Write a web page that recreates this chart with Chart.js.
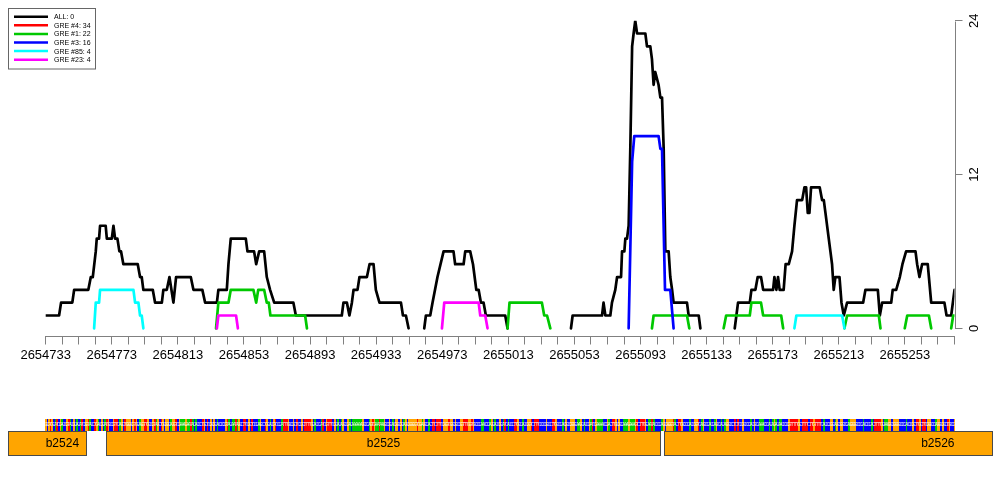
<!DOCTYPE html>
<html>
<head>
<meta charset="utf-8">
<script src="https://cdn.jsdelivr.net/npm/chart.js@4.4.0/dist/chart.umd.min.js"></script>
<style>
  html, body { margin: 0; padding: 0; background: #fff; }
  #wrap { width: 1000px; height: 500px; }
</style>
</head>
<body>
<div id="wrap"><canvas id="greChart" width="1000" height="500"></canvas></div>
<script>
// x range (genome position) and tick labels
const xStart = 2654733;
const xEnd = 2655283;
const xLabels = [2654733, 2654773, 2654813, 2654853, 2654893, 2654933, 2654973,
  2655013, 2655053, 2655093, 2655133, 2655173, 2655213, 2655253];
const yTicks = [0, 12, 24];

const seriesNames = ['ALL: 0', 'GRE #4: 34', 'GRE #1: 22', 'GRE #3: 16', 'GRE #85: 4', 'GRE #23: 4'];
const seriesColors = ['#000000', '#ff0000', '#00c800', '#0000ff', '#00ffff', '#ff00ff'];

// positions are offsets from xStart, null = gap
const allPos = [0,8.1,9.3,16.1,17.2,25.8,27.3,28.5,30.3,30.9,
  32.3,32.9,36.3,37,40,41,42,43.4,44.6,45.6,
  47,55.7,57.1,58.1,59.1,64.8,66.2,70.3,71.2,73.3,
  74.9,77.3,78.9,87.8,89.4,94.8,96.5,103.6,104.5,109.6,
  110.6,112,121.1,122.1,126.1,127.4,129.2,132.2,133.8,135.8,
  138.3,149.9,151.4,179.2,180.2,182.3,183.8,185.3,186.3,188.7,
  189.9,194.4,196,198.4,199.8,202,215,216.2,218,219.6,
  224,229.1,230.1,232.7,234.1,237.1,240.8,246.8,247.8,252.9,
  253.9,256.9,258.6,260.6,262,263.4,265,266.4,278.1,279.5,
  300,317.9,318.9,336.7,337.6,338.7,341.7,342.7,344.7,345.8,
  348.2,348.8,350.2,350.8,351.8,352.8,353.8,354.9,355.8,356.8,
  357.9,362.9,363.9,365.9,366.9,367.9,368.9,370.9,372,373,
  374,375,377,378,379.1,380,388.1,389.1,395.2,396.2,
  405,417,418,419,426.1,427.1,429.5,430.9,432.9,434.2,
  440.2,441,442.2,443.2,444.2,446.6,447.8,449.7,451.7,453.1,
  454.7,457.8,459.2,460.2,461.2,462.2,463.2,468.4,469.9,470.9,
  471.9,473.9,474.9,475.9,476.9,477.9,480.4,481.6,483,485,
  494.7,496.1,503.6,504.8,506.2,511.7,512.6,514.7,516.9,518.5,
  520.7,526.4,527.4,528.8,530.4,533.8,535.9,543.9,545.2,548,
  550];
const allVal = [1,1,2,2,3,3,4,4,6,7,
  7,8,8,7,7,8,7,7,6,6,
  5,5,4,4,3,3,2,2,3,3,
  4,2,4,4,3,3,2,2,3,3,
  5,7,7,6,6,5,6,6,4,3,
  2,2,1,1,2,2,1,2,3,3,
  4,4,5,5,3,2,2,1,1,0,
  null,0,1,1,2,4,6,6,5,5,
  6,6,5,3,3,2,2,1,1,0,
  null,0,1,1,2,1,1,2,3,4,
  4,6,6,7,7,8,14,22,23,24,
  23,23,22,22,21,19,20,19,18,18,
  14,6,6,4,3,2,2,1,1,0,
  null,0,1,2,2,3,3,4,4,3,
  3,4,3,4,3,3,5,5,6,8,
  10,10,11,11,9,9,11,11,10,10,
  9,7,6,5,3,4,4,2,1,2,
  2,3,3,1,2,2,3,3,4,5,
  6,6,5,4,5,5,2,2,1,1,
  3];

const gre4Pos = [];
const gre4Val = [];

const gre1Pos = [103.1,104.5,110.6,112,125.7,127.4,128.6,132.2,133.8,135,
  136,157,158.1,200,279.5,280.7,300.3,301.7,303.4,305.4,
  330,366.9,367.9,388.1,389.5,400,410.3,411.8,426.1,427.1,
  432.9,434.2,445.1,446.3,460,483.4,485,504.2,505.2,510,
  519.9,521.4,534.5,535.9,540,548,549.2,550];
const gre1Val = [0,2,2,3,3,2,3,3,2,2,
  1,1,0,null,0,2,2,1,1,0,
  null,0,1,1,0,null,0,1,1,2,
  2,1,1,0,null,0,1,1,0,null,
  0,1,1,0,null,0,1,1];

const gre3Pos = [352.8,354.9,356.2,370.9,372,373,374.8,378,380];
const gre3Val = [0,13,15,15,14,14,3,3,0];

const gre85Pos = [29.3,30.3,32.3,32.9,53.1,54.1,56.1,57.1,58.1,59.1,200,453.1,454.3,482,483.4];
const gre85Val = [0,2,2,3,3,2,2,1,1,0,null,0,1,1,0];

const gre23Pos = [103.6,104.5,115.2,116.3,200,239.8,241.2,262,263,266,267.4];
const gre23Val = [0,1,1,0,null,0,2,2,1,1,0];

// annotation tracks
const geneNames = ['b2524', 'b2525', 'b2526'];
const geneStart = [2654600, 2654769.5, 2655107.2];
const geneEnd = [2654757.8, 2655105.4, 2655500];
const seq = 'GCGTGCATCGACCGTACGCACATCGGTACCTGACGCATGCCGTTCAGCTG' +
  'GGCGTGCAGGTTGCCGTAGCTGCGGCAGGTCGAAAGAATACACCCTGCTC' +
  'GCGCACCCCGTACAATAGCCTTCGCTCCCAGCCTGCACGTCCCATTTGCC' +
  'GCTCCGCTTTTGCACCCATCGTTTCGCACAGCCGACAAAAAAGCCCAGTG' +
  'AATAAGCCGCACGGCGCAGCGGGGGTGGAGCCACTTCTTTCGGGTGGCGC' +
  'CGGTTTGGTGCCCCAACCCAGCACCGCATCACCCTTGCCACCGGTCTTTC' +
  'CCCGCCCTTGCCCACGCCGGGCAAGCACCGATCGAAAACCGACTTGCGCC' +
  'AAAGAAAGTCTTTGCAATACCCCAGCGGGGTACTTGCCCCACCGGTCAGC' +
  'CCACCAGCCACAGGCCCTCTCCGCCCCACGCCAAACCCACAGACAACCCC' +
  'GTTTTTGCTTTTCTTGTTTTCACCCGGCAGCGGCCCAGGGGCCCCACCCC' +
  'ACTTTTGCAAGGCGGGGCCCCACCCGCTTGCTTCGGCCCAGGCGCCTGCCG';
const baseColors = { A: '#00cc00', C: '#0000ff', G: '#ffa500', T: '#ff0000' };

const FONT = 'Liberation Sans, Arial, sans-serif';
const AXIS_GRAY = '#808080';

function toPoints(pos, val) {
  return pos.map((p, i) => ({ x: xStart + p, y: val[i] }));
}

const seriesData = [
  toPoints(allPos, allVal),
  toPoints(gre4Pos, gre4Val),
  toPoints(gre1Pos, gre1Val),
  toPoints(gre3Pos, gre3Val),
  toPoints(gre85Pos, gre85Val),
  toPoints(gre23Pos, gre23Val)
];

const datasets = seriesNames.map((name, i) => ({
  label: name,
  data: seriesData[i],
  borderColor: seriesColors[i],
  backgroundColor: seriesColors[i],
  borderWidth: 2.7,
  borderCapStyle: 'round',
  borderJoinStyle: 'round',
  pointRadius: 0,
  tension: 0,
  spanGaps: false,
  order: seriesNames.length - i   // ALL drawn first, GRE #23 on top
}));

// right axis line only from 0 to 24 (like R)
const yAxisLine = {
  id: 'yAxisLine',
  afterDraw(chart) {
    const ctx = chart.ctx;
    const y = chart.scales.y;
    const x = Math.round(chart.chartArea.right) + 0.5;
    ctx.save();
    ctx.strokeStyle = AXIS_GRAY;
    ctx.lineWidth = 1;
    ctx.beginPath();
    ctx.moveTo(x, Math.round(y.getPixelForValue(yTicks[0])) + 0.5);
    ctx.lineTo(x, Math.round(y.getPixelForValue(yTicks[yTicks.length - 1])) + 0.5);
    ctx.stroke();
    ctx.restore();
  }
};

// R style legend box
const legendBox = {
  id: 'legendBox',
  afterDraw(chart) {
    const ctx = chart.ctx;
    ctx.save();
    ctx.fillStyle = '#fff';
    ctx.fillRect(8.5, 8.5, 87, 60.5);
    ctx.strokeStyle = '#666';
    ctx.lineWidth = 1;
    ctx.strokeRect(8.5, 8.5, 87, 60.5);
    ctx.font = '7px ' + FONT;
    ctx.textBaseline = 'middle';
    seriesNames.forEach((name, i) => {
      const yy = 16.7 + i * 8.6;
      ctx.strokeStyle = seriesColors[i];
      ctx.lineWidth = 2.5;
      ctx.beginPath();
      ctx.moveTo(14, yy);
      ctx.lineTo(48, yy);
      ctx.stroke();
      ctx.fillStyle = '#000';
      ctx.fillText(name, 54, yy + 0.5);
    });
    ctx.restore();
  }
};

// sequence strip + gene boxes under the plot
const tracks = {
  id: 'tracks',
  afterDraw(chart) {
    const ctx = chart.ctx;
    const xs = chart.scales.x;
    const area = chart.chartArea;
    ctx.save();

    // sequence
    const seqTop = 419, seqH = 12;
    for (let i = 0; i < seq.length; i++) {
      const l = Math.round(xs.getPixelForValue(xStart + i - 0.5));
      const r = Math.round(xs.getPixelForValue(xStart + i + 0.5));
      ctx.fillStyle = baseColors[seq[i]];
      ctx.fillRect(l, seqTop, r - l, seqH);
    }
    ctx.font = '5px ' + FONT;
    ctx.textAlign = 'center';
    ctx.textBaseline = 'middle';
    ctx.fillStyle = 'rgba(255,255,255,0.75)';
    for (let i = 0; i < seq.length; i++) {
      ctx.fillText(seq[i], xs.getPixelForValue(xStart + i), seqTop + seqH / 2);
    }

    // genes
    const clipL = 8, clipR = 993;
    const top = 431, h = 25;
    ctx.font = '12px ' + FONT;
    ctx.textBaseline = 'middle';
    geneNames.forEach((name, i) => {
      const p0 = xs.getPixelForValue(geneStart[i]);
      const p1 = xs.getPixelForValue(geneEnd[i]);
      const l = Math.max(clipL, p0), r = Math.min(clipR, p1);
      ctx.fillStyle = '#ffa500';
      ctx.fillRect(Math.round(l), top, Math.round(r) - Math.round(l), h);
      ctx.strokeStyle = '#4a4a4a';
      ctx.lineWidth = 1;
      ctx.strokeRect(Math.round(l) + 0.5, top + 0.5, Math.round(r) - Math.round(l) - 1, h - 1);
      const w = ctx.measureText(name).width;
      let cx = (p0 + p1) / 2;
      cx = Math.min(Math.max(cx, area.left + w / 2), area.right - w / 2);
      ctx.fillStyle = '#000';
      ctx.textAlign = 'center';
      ctx.fillText(name, cx, top + h / 2 + 0.5);
    });
    ctx.restore();
  }
};

const chart = new Chart(document.getElementById('greChart'), {
  type: 'line',
  data: { datasets: datasets },
  options: {
    responsive: false,
    animation: false,
    devicePixelRatio: 1,
    layout: { padding: { left: 45.7, top: 20.7, right: 5.5, bottom: 133.5 } },
    plugins: { legend: { display: false }, tooltip: { enabled: false } },
    scales: {
      x: {
        type: 'linear',
        position: 'bottom',
        min: xStart,
        max: xEnd,
        afterBuildTicks: s => {
          const t = [];
          for (let v = xStart; v <= xEnd; v += 10) t.push({ value: v });
          s.ticks = t;
        },
        afterFit: s => { s.height = 30; },
        border: { display: true, color: AXIS_GRAY, width: 1 },
        grid: { drawOnChartArea: false, drawTicks: true, tickLength: 8, color: AXIS_GRAY },
        ticks: {
          autoSkip: false,
          maxRotation: 0,
          minRotation: 0,
          padding: 3,
          color: '#000',
          font: { family: FONT, size: 13 },
          callback: v => xLabels.includes(v) ? String(v) : ''
        }
      },
      y: {
        type: 'linear',
        position: 'right',
        min: -0.64,
        max: 24,
        afterBuildTicks: s => { s.ticks = yTicks.map(v => ({ value: v })); },
        afterFit: s => { s.width = 40; },
        border: { display: false },
        grid: { drawOnChartArea: false, drawTicks: true, tickLength: 8, color: AXIS_GRAY },
        ticks: {
          minRotation: 90,
          maxRotation: 90,
          crossAlign: 'center',
          padding: 5,
          color: '#000',
          font: { family: FONT, size: 13 }
        }
      }
    }
  },
  plugins: [yAxisLine, legendBox, tracks]
});
</script>
</body>
</html>
